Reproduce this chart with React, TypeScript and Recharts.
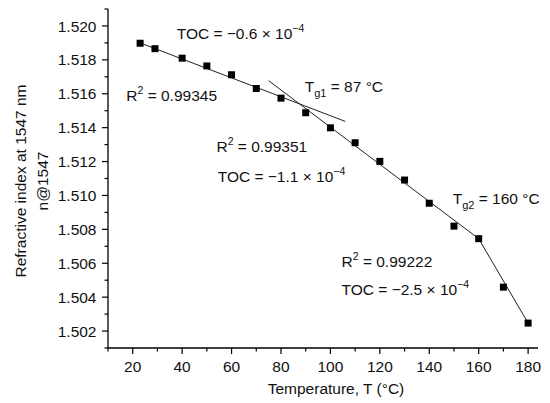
import React from 'react';
import { ComposedChart, XAxis, YAxis, Line, Scatter, ReferenceDot } from 'recharts';

// measured points: temperature (°C) and refractive index at 1547 nm
const temps = [23, 29, 40, 50, 60, 70, 80, 90, 100, 110, 120, 130, 140, 150, 160, 170, 180];
const indices = [
  1.51898, 1.51866, 1.5181, 1.51764, 1.51712, 1.51631, 1.51574, 1.51488, 1.51399,
  1.51311, 1.51201, 1.51091, 1.50954, 1.50819, 1.50745, 1.50459, 1.50247,
];

// linear fits (end points)
const fit1T = [23, 106];
const fit1N = [1.519, 1.51437];
const fit2T = [75, 160];
const fit2N = [1.51677, 1.50745];
const fit3T = [160, 180];
const fit3N = [1.50745, 1.50247];

const xTicks = [10, 20, 30, 40, 50, 60, 70, 80, 90, 100, 110, 120, 130, 140, 150, 160, 170, 180];
const yTicks = [
  1.501, 1.502, 1.503, 1.504, 1.505, 1.506, 1.507, 1.508, 1.509, 1.51, 1.511,
  1.512, 1.513, 1.514, 1.515, 1.516, 1.517, 1.518, 1.519, 1.52, 1.521,
];

// annotation kinds: 'toc' -> "TOC = <v> × 10^-4", 'r2' -> "R² = <v>", 'tg' -> "T_g<sub> = <v> °C"
const noteKind = ['toc', 'r2', 'tg', 'r2', 'toc', 'tg', 'r2', 'toc'];
const noteValue = ['−0.6', '0.99345', '87', '0.99351', '−1.1', '160', '0.99222', '−2.5'];
const noteSub = ['', '', 'g1', '', '', 'g2', '', ''];
const noteT = [37.8, 17.4, 89.6, 53.9, 54.4, 149.5, 104.5, 104.5];
const noteN = [1.51923, 1.51558, 1.51611, 1.51258, 1.51082, 1.50952, 1.50578, 1.5041];

const FONT = '"Liberation Sans", Arial, Helvetica, sans-serif';
const INK = '#111';
const FS = 15.5;

const points = temps.map((t, i) => ({ T: t, n: indices[i] }));
const toRows = (ts: number[], ns: number[]) => ts.map((t, i) => ({ T: t, n: ns[i] }));
const fit1 = toRows(fit1T, fit1N);
const fit2 = toRows(fit2T, fit2N);
const fit3 = toRows(fit3T, fit3N);

function XTick(props: any) {
  const { x, y, payload } = props;
  const major = payload.value % 20 === 0;
  return (
    <g>
      <line x1={x} x2={x} y1={y} y2={y + (major ? 6 : 3.5)} stroke="#000" strokeWidth={1.2} />
      {major && (
        <text x={x} y={y + 23.5} textAnchor="middle" fontSize={FS} fontFamily={FONT} fill={INK}>
          {payload.value}
        </text>
      )}
    </g>
  );
}

function YTick(props: any) {
  const { x, y, payload } = props;
  const major = Math.round(payload.value * 1000) % 2 === 0;
  return (
    <g>
      <line x1={x} x2={x - (major ? 6 : 3.5)} y1={y} y2={y} stroke="#000" strokeWidth={1.2} />
      {major && (
        <text x={x - 11.5} y={y} dy="0.36em" textAnchor="end" fontSize={FS} fontFamily={FONT} fill={INK}>
          {payload.value.toFixed(3)}
        </text>
      )}
    </g>
  );
}

function Note(i: number) {
  return (props: any) => {
    const { cx, cy } = props;
    const kind = noteKind[i];
    const common = { x: cx, y: cy, fontSize: FS, fontFamily: FONT, fill: INK };
    if (kind === 'r2') {
      return (
        <text {...common}>
          R<tspan dy={-7} fontSize={10.5}>2</tspan>
          <tspan dy={7}>{' = ' + noteValue[i]}</tspan>
        </text>
      );
    }
    if (kind === 'tg') {
      return (
        <text {...common}>
          T<tspan dy={5} fontSize={11}>{noteSub[i]}</tspan>
          <tspan dy={-5}>{' = ' + noteValue[i] + ' °C'}</tspan>
        </text>
      );
    }
    return (
      <text {...common}>
        {'TOC = ' + noteValue[i] + ' × 10'}
        <tspan dy={-7} fontSize={10.5}>−4</tspan>
      </text>
    );
  };
}

function YLabel(props: any) {
  const cx = 20;
  const cx2 = 42;
  const cy = 181;
  return (
    <g fontSize={FS} fontFamily={FONT} fill={INK}>
      <text x={cx} y={cy} transform={`rotate(-90, ${cx}, ${cy})`} textAnchor="middle" dominantBaseline="central">
        Refractive index at 1547 nm
      </text>
      <text x={cx2} y={cy} transform={`rotate(-90, ${cx2}, ${cy})`} textAnchor="middle" dominantBaseline="central">
        n@1547
      </text>
    </g>
  );
}

function XLabel(props: any) {
  const { viewBox } = props;
  const x = viewBox.x + viewBox.width / 2 + 13;
  return (
    <text x={x} y={394} textAnchor="middle" fontSize={FS} fontFamily={FONT} fill={INK}>
      Temperature, T (°C)
    </text>
  );
}

const Square = (props: any) => {
  const { cx, cy } = props;
  return <rect x={cx - 3.5} y={cy - 3.5} width={7} height={7} fill="#000" />;
};

export default function App() {
  return (
    <div style={{ position: 'absolute', left: 0, top: 0, background: '#fff' }}>
      <ComposedChart width={550} height={403} margin={{ top: 9, right: 12, bottom: 25, left: 48 }}>
        <XAxis
          dataKey="T"
          type="number"
          domain={[10, 184]}
          ticks={xTicks}
          interval={0}
          allowDataOverflow
          tickSize={0}
          tickMargin={0}
          tick={<XTick />}
          axisLine={{ stroke: '#000', strokeWidth: 1.3 }}
          height={30}
          label={{ content: <XLabel /> }}
        />
        <YAxis
          dataKey="n"
          type="number"
          domain={[1.501, 1.521]}
          ticks={yTicks}
          interval={0}
          allowDataOverflow
          tickSize={0}
          tickMargin={0}
          tick={<YTick />}
          axisLine={{ stroke: '#000', strokeWidth: 1.3 }}
          width={60}
          label={{ content: <YLabel /> }}
        />
        <Line data={fit1} dataKey="n" type="linear" stroke="#222" strokeWidth={1} dot={false} activeDot={false} isAnimationActive={false} />
        <Line data={fit2} dataKey="n" type="linear" stroke="#222" strokeWidth={1} dot={false} activeDot={false} isAnimationActive={false} />
        <Line data={fit3} dataKey="n" type="linear" stroke="#222" strokeWidth={1} dot={false} activeDot={false} isAnimationActive={false} />
        <Scatter data={points} dataKey="n" shape={<Square />} isAnimationActive={false} />
        {noteT.map((t, i) => (
          <ReferenceDot key={i} x={t} y={noteN[i]} r={0} shape={Note(i)} ifOverflow="visible" />
        ))}
      </ComposedChart>
    </div>
  );
}
